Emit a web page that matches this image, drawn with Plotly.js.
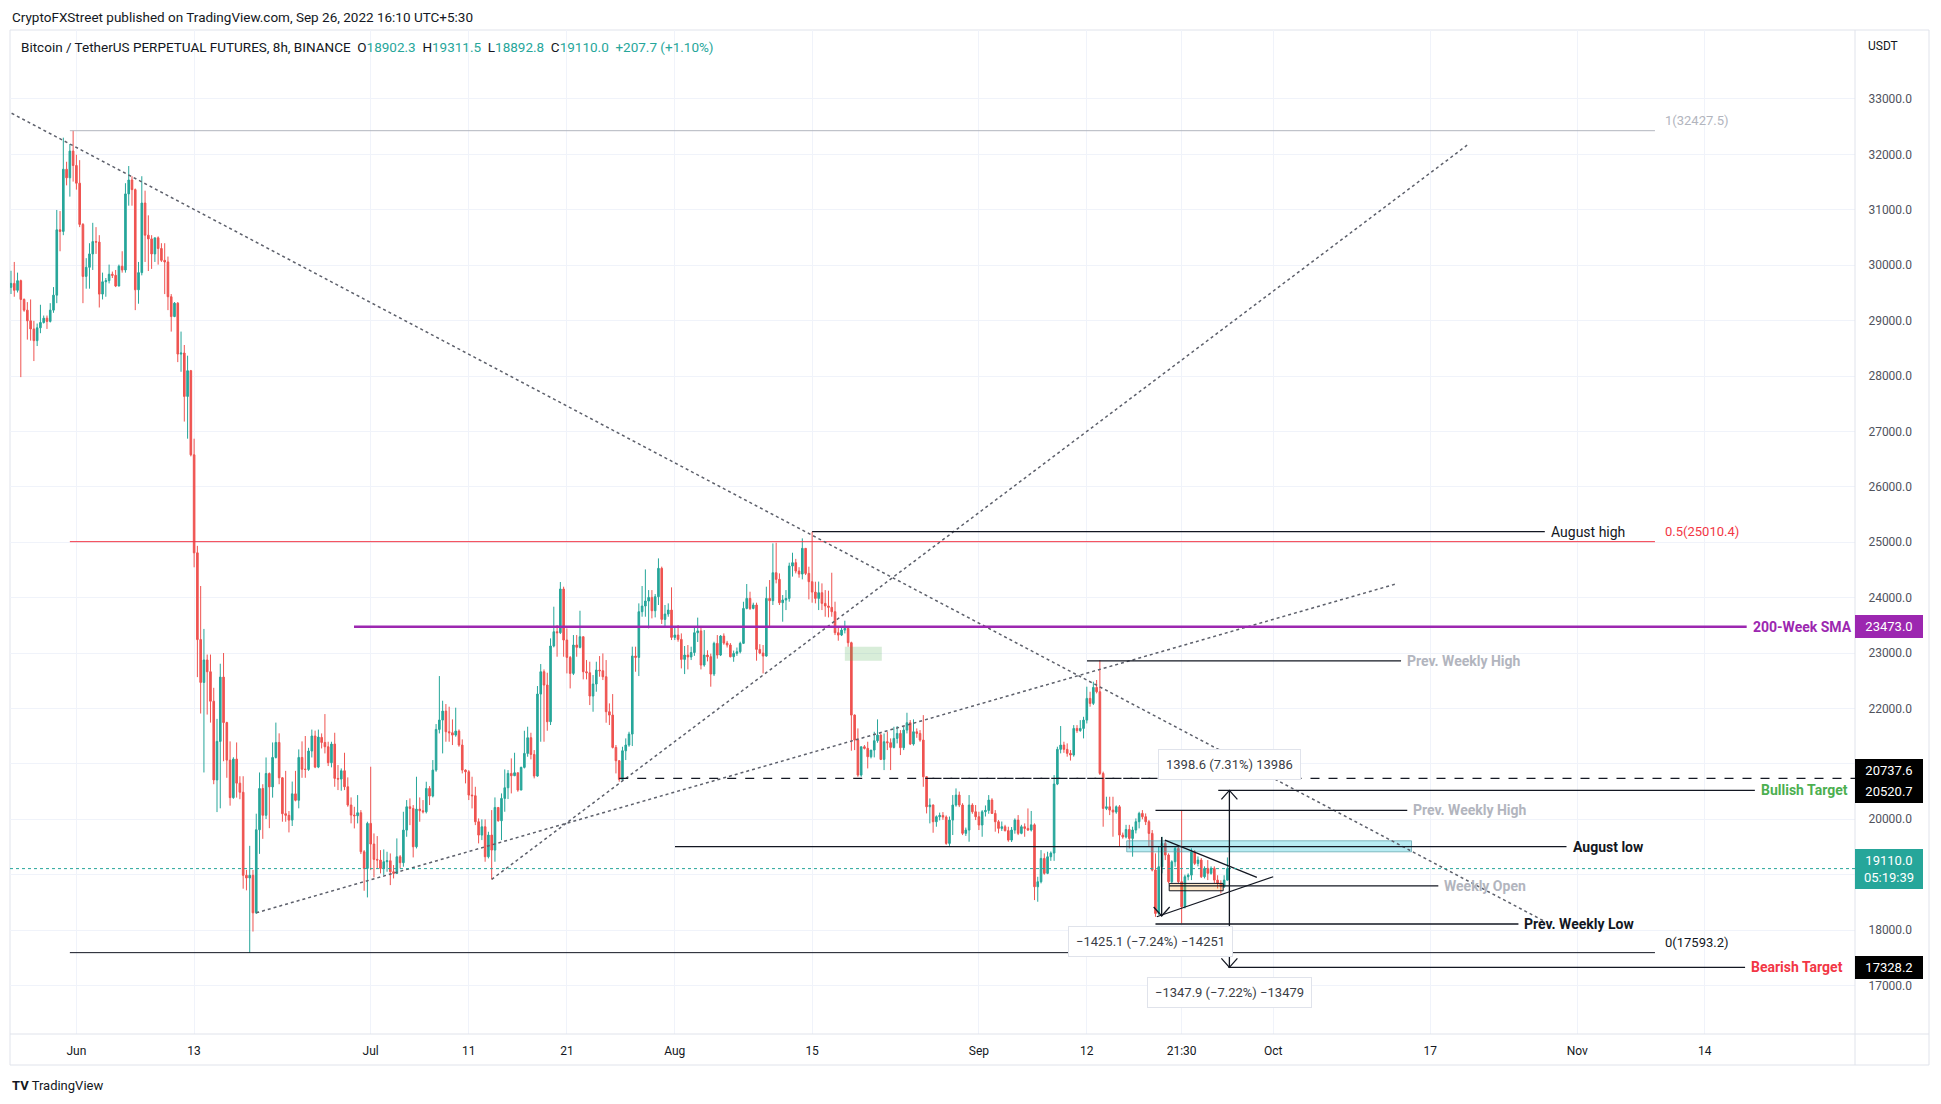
<!DOCTYPE html>
<html><head><meta charset="utf-8">
<script src="https://cdn.plot.ly/plotly-3.0.1.min.js"></script>
<style>html,body{margin:0;padding:0;background:#fff;}#chart{width:1941px;height:1104px;}</style>
</head><body><div id="chart"></div>
<script>
// ---- candle data, 8h BTCUSDT perpetual, [open, high, low, close] ----
const candlesMayJun = [
[29600,29900,29480,29672],[29672,30059,29431,29547],[29547,29866,29508,29721],[29721,29740,27980,29382],[29382,29400,29160,29189],
[29189,29334,28657,28996],[28996,29382,28638,28850],[28850,28996,28270,28638],[28638,28947,28541,28870],[28870,29286,28773,28966],
[28966,29092,28947,29044],[29044,29092,28850,28986],[28986,29315,28966,29189],[29189,29605,29141,29460],[29460,30997,29315,30639],
[30639,30977,30252,30610],[30610,32302,30542,31732],[31732,31867,31441,31577],[31577,32186,31238,32060],[32060,32427.5,31509,31799],
[31799,31993,31364,31480],[31480,31896,30687,30736],[30736,30760,29315,29798],[29798,30127,29576,29962],[29962,30397,29576,30204],
[30204,30765,29914,30426],[30426,30687,30204,30417],[30417,30542,29237,29479],[29479,29866,29382,29701],[29701,29769,29431,29721],
[29721,30011,29672,29837],[29837,29885,29769,29817],[29817,29914,29605,29624],[29624,30011,29620,29982],[29982,30252,29866,29914],
[29914,31480,29866,31287],[31287,31790,31074,31538],[31538,31606,31074,31364],[31364,31384,29189,29556],[29556,30059,29305,29866],
[29866,31606,29817,31122],[31122,31345,30059,30542],[30542,30900,29895,30475],[30475,30542,29933,30204],[30204,30494,30059,30494],
[30494,30520,30011,30301],[30301,30397,30059,30088],[30088,30397,29479,30059],[30059,30156,29189,29431],[29431,29479,28802,29073],
[29073,29334,29063,29315],[29315,29334,28251,28396],[28396,28802,28077,28415],[28415,28560,27178,27632],[27632,28367,26869,28096],
[28096,28110,26550,26578],[26578,26869,24548,24809],[24809,24935,22566,23243],[23243,24210,21909,22470],[22470,23436,20845,22876],
[22876,22973,21890,22663],[22663,22973,21745,22131],[22131,22373,20633,20710],[20710,21812,20130,21406],[21406,22808,20198,22566],
[22566,23001,21048,21745],[21745,21760,20749,21068],[21068,21406,20246,20391],[20391,21120,20370,21087],[21087,21387,20391,20652],
[20652,20777,20362,20488],[20488,20777,18747,18989],[18989,19086,18718,18941],[18941,19521,17593.2,18989],[18989,19086,17974,18312],
[18312,20101,18293,19811],[19811,20845,19376,20556],[20556,20633,19647,20072],[20072,21116,20005,20826],[20826,20845,19840,20585],
[20585,21387,20391,21116],[21116,21745,21097,21387],[21387,21551,20633,20749],[20749,20760,19956,20101],[20101,20874,19956,20072],
[20072,20149,19763,19985],[19985,20681,19879,20459],[20459,20874,20324,20343],[20343,21261,20198,21116],[21116,21406,20749,20903],
[20903,21503,20749,20900],[20900,21290,20874,21232],[21232,21619,21116,21503],[21503,21600,20923,20942],[20942,21619,20923,21484]
];
const candlesJunJul = [
[21478,21550,21279,21387],[21387,21899,21189,21309],[21309,21400,20961,21021],[21021,21400,20937,21358],[21358,21562,20587,20738],
[20738,20979,20527,20726],[20726,20918,20515,20876],[20876,21201,20527,20587],[20587,20756,20226,20257],[20257,20395,19926,20076],
[20076,20226,19835,20064],[20064,20437,19926,20118],[20118,20166,19372,19414],[19414,19444,18710,19113],[19113,19956,18590,19926],
[19926,20949,19083,19553],[19553,19745,18951,19276],[19276,19697,19113,19264],[19264,19444,19023,19113],[19113,19456,18993,19234],
[19234,19414,19053,19252],[19252,19384,18812,19053],[19053,19174,18933,19023],[19023,19655,19011,19324],[19324,19354,19113,19216],
[19216,20136,19144,19805],[19805,20347,19685,20226],[20226,20377,19895,20196],[20196,20257,19312,19504],[19504,20768,19474,20184],
[20184,20395,19956,20154],[20154,20347,20106,20136],[20136,20678,20106,20557],[20557,20599,20257,20419],[20419,21069,20395,20888],
[20888,21719,20858,21622],[21622,22585,21550,21791],[21791,22140,21189,21953],[21953,22080,21400,21580],[21580,22032,21400,21562],
[21562,21803,21340,21520],[21520,22014,21490,21592],[21592,21622,21309,21340],[21340,21442,20828,20888],[20888,20900,20648,20858],
[20858,20888,20347,20437],[20437,20768,20196,20425],[20425,20587,19895,19956],[19956,20016,19565,19715],[19715,19998,19625,19865],
[19865,19998,19234,19324],[19324,19775,19294,19715],[19715,20166,18915,19444],[19444,20395,19234,20214],[20214,20214,19956,19974],
[19974,20467,19625,20377],[20377,20900,20136,20569],[20569,20888,20365,20828],[20828,21099,20467,20786],[20786,21201,20780,20840],
[20840,20840,20497,20527],[20527,20949,20527,20937],[20937,21598,20918,21189],[21189,21671,21129,21472],[21472,21562,21081,21171],
[21171,21249,20738,20780],[20780,22405,20768,22260],[22260,22802,21400,22663],[22663,22705,21400,22423],[22423,22645,21598,21761],
[21761,23265,21701,23127],[23127,23837,23103,23385],[23385,23506,22934,23367],[23367,24282,23343,24156],[24156,24198,22934,23235],
[23235,23446,22633,22922],[22922,22946,22362,22633],[22633,23325,22603,23145],[23145,23325,22934,23103],[23103,23764,23085,23295],
[23295,23295,22525,22663],[22663,22874,22525,22645],[22645,22844,22062,22224],[22224,22603,21941,22441],[22441,22844,22302,22693],
[22693,22946,22573,22681],[22681,22994,22513,22573],[22573,22874,21743,21941],[21941,22092,21701,21881],[21881,22260,21279,21297],
[21297,21340,20828,21057],[21057,21069,20678,20720],[20720,21309,20696,21237],[21237,21460,21069,21340],[21340,21580,21309,21538]
];
const candlesJulAug = [
[21538,23115,21322,22946],[22946,23115,22663,22922],[22922,23897,22585,23746],[23746,24210,23656,23849],[23849,24510,23656,23939],
[23939,24137,23445,24005],[24005,24137,23626,23764],[23764,24065,23644,24017],[24017,24709,23867,24529],[24529,24560,23524,23608],
[23608,23867,23488,23704],[23704,23897,23656,23776],[23776,24186,23235,23283],[23283,23488,23235,23325],[23325,23506,23205,23247],
[23247,23355,22723,22886],[22886,23127,22621,22964],[22964,23145,22705,22930],[22930,23115,22874,23010],[23010,23488,22950,23367],
[23367,23640,23200,23400],[23400,23476,22705,22784],[22784,23415,22754,22964],[22964,23050,22850,22934],[22934,22990,22393,22621],
[22621,23205,22585,23175],[23175,23325,22900,22964],[22964,23325,22946,23307],[23307,23355,23150,23180],[23180,23220,23100,23145],
[23145,23180,22922,22934],[22934,23045,22843,22994],[22994,23100,22950,23024],[23024,23205,22994,23175],[23175,23926,23163,23806],
[23806,24246,23790,23987],[23987,24107,23777,23806],[23806,23909,23789,23867],[23867,23909,22862,23066],[23066,23160,22980,23000],
[23000,23145,22633,22946],[22946,24198,22934,23987],[23987,24318,23464,23945],[23945,24980,23867,24450],[24450,24992,24258,24330],
[24330,24438,23867,23909],[23909,24047,23566,23957],[23957,24137,23776,23987],[23987,24631,23927,24571],[24571,24811,24380,24631],
[24631,24700,24438,24480],[24480,24550,24360,24426],[24426,25070,24330,24890],[24890,24890,24408,24438],[24438,24559,23969,24288],
[24288,25190,23909,24100],[24100,24288,23897,23987],[23987,24290,23776,24089],[24089,24258,23776,23897],[23897,24137,23656,23850],
[23850,24126,23644,23825],[23825,24450,23656,23746],[23746,23927,23325,23367],[23367,23476,23223,23325],[23325,23488,23307,23415],
[23415,23584,23355,23445],[23445,23488,23114,23187],[23187,23205,21237,21881],[21881,21893,21249,21430],[21430,21640,20767,20798],
[20798,21309,20767,21309],[21309,21340,21261,21280],[21280,21400,20918,21129],[21129,21249,21099,21249],[21249,21580,21117,21418],
[21418,21803,21382,21520],[21520,21550,21069,21081],[21081,21550,20888,21400],[21400,21580,21249,21382],[21382,21460,20888,21297],
[21297,21670,21279,21460],[21460,21683,21370,21550],[21550,21610,21159,21292],[21292,21671,21249,21610],[21610,21923,21550,21743],
[21743,21791,21340,21358],[21358,21803,21330,21580],[21580,21640,21470,21550],[21550,21610,21400,21430],[21430,21880,20587,20768],
[20768,20780,20106,20226],[20226,20377,19926,20257],[20257,20269,19757,19955],[19955,20070,19866,20046],[20046,20120,19980,20070]
];
const candlesAugSep = [
[20070,20130,19990,20040],[20040,20070,19540,19565],[19565,20050,19520,19986],[19986,20437,19716,20257],[20257,20557,20227,20437],
[20437,20500,20220,20257],[20257,20290,19715,19746],[19746,19850,19700,19806],[19806,20437,19595,20257],[20257,20290,20100,20136],
[20136,20257,19986,20046],[20046,20136,19806,19896],[19896,20166,19685,20136],[20136,20250,20050,20160],[20160,20437,20100,20347],
[20347,20380,20100,20106],[20106,20166,19776,19956],[19956,19986,19746,19836],[19836,19960,19790,19866],[19866,19900,19780,19795],
[19795,19866,19595,19625],[19625,19860,19590,19806],[19806,20016,19740,19986],[19986,20076,19715,19746],[19746,19900,19730,19866],
[19866,19926,19685,19836],[19836,20196,19790,19806],[19806,20150,19780,19900],[19900,19926,18542,18782],[18782,18963,18512,18873],
[18873,19444,18843,19294],[19294,19385,19000,19024],[19024,19414,19010,19324],[19324,19420,19250,19390],[19390,20798,19250,20636],
[20636,21310,20617,21262],[21262,21683,21190,21340],[21340,21400,21200,21262],[21262,21370,21130,21190],[21190,21250,21060,21160],
[21160,21700,21130,21640],[21640,21700,21560,21600],[21600,21790,21580,21640],[21640,21850,21460,21790],[21790,22393,21730,22182],
[22182,22302,22032,22092],[22092,22483,22062,22380],[22380,22514,22272,22302],[22302,22874,20800,20828],[20828,20860,19866,20196],
[20196,20407,20166,20226],[20226,20407,20076,20166],[20166,20407,19685,20130],[20130,20250,20100,20226],[20226,20257,19505,19715],
[19715,19760,19650,19680],[19680,19900,19655,19816],[19816,19900,19475,19655],[19655,19866,19325,19806],[19806,20016,19745,19956],
[19956,20136,19836,20106],[20106,20166,20000,20046],[20046,20106,19896,19956],[19956,19986,19505,19745],[19745,19806,19060,19084],
[19084,19385,18240,18301],[18301,19505,18270,19144],[19144,19685,19024,19565],[19565,19625,19264,19355],[19355,19385,18842,18873],
[18873,19260,18843,19234],[19234,19505,19144,19475],[19475,19505,18850,18873],[18873,20166,18120,18421],[18421,19000,18391,18963],
[18963,19024,18900,18993],[18993,19475,18903,19415],[19415,19445,19174,19204],[19204,19330,19150,19264],[19264,19300,18940,18963],
[18963,19150,18933,19114],[19114,19264,18903,19024],[19024,19150,19000,19114],[19114,19150,18850,18903],[18903,18990,18752,18843],
[18843,18900,18662,18782],[18782,18990,18760,18902.3],[18902.3,19311.5,18892.8,19110.0]
];
const firstCandleUTC = Date.UTC(2022, 4, 25, 13, 30);   // first 8h candle, exchange chart time (UTC+5:30)
const candleHours = 8;

// ---- axes ----
const priceTicks = [17000,18000,19000,20000,21000,22000,23000,24000,25000,26000,27000,28000,29000,30000,31000,32000,33000];
const hiddenPriceTicks = [19000];   // covered by the live-price tag in the original
const timeTickVals = ["2022-06-01 05:30","2022-06-13 05:30","2022-07-01 05:30","2022-07-11 05:30","2022-07-21 05:30","2022-08-01 05:30","2022-08-15 05:30","2022-09-01 05:30","2022-09-12 05:30","2022-09-21 21:30","2022-10-01 05:30","2022-10-17 05:30","2022-11-01 05:30","2022-11-14 05:30"];
const timeTickText = ["Jun","13","Jul","11","21","Aug","15","Sep","12","21:30","Oct","17","Nov","14"];

// ---- analyst drawings ----
const fibStart = "2022-05-31 13:30", fibEnd = "2022-11-09 03:30";
const fibRatios = ["1", "0.5", "0"];
const fibPrices = [32427.5, 25010.4, 17593.2];
const levelNames = ["August high","200-Week SMA","Prev. Weekly High","Bullish Target","Prev. Weekly High","August low","Weekly Open","Prev. Weekly Low","Bearish Target"];
const levelPrices = [25190, 23473.0, 22860, 20520.7, 20160, 19505, 18800, 18110, 17328.2];
const levelStarts = ["2022-08-15 05:30","2022-06-29 12:40","2022-09-12 05:55","2022-09-25 15:05","2022-09-19 05:30","2022-08-01 06:00","2022-09-20 15:05","2022-09-19 05:30","2022-09-26 15:55"];
const levelEnds = ["2022-10-28 22:00","2022-11-18 11:55","2022-10-14 06:20","2022-11-19 07:55","2022-10-14 21:30","2022-10-31 03:05","2022-10-18 01:30","2022-10-26 05:30","2022-11-18 08:00"];
const dashedLevel = {price: 20737.6, start: "2022-07-26 13:30"};
const trendLines = [
  {from: ["2022-05-25 15:00", 32742], to: ["2022-10-28 22:20", 18155]},
  {from: ["2022-07-13 13:30", 18916], to: ["2022-10-20 23:55", 32166]},
  {from: ["2022-06-19 13:30", 18312], to: ["2022-10-13 19:05", 24250]}
];
const triangleUpper = [["2022-09-20 04:40", 19625], ["2022-09-29 13:30", 18952]];
const triangleLower = [["2022-09-19 08:40", 18241], ["2022-10-01 05:30", 18963]];
const zoneCyan = {x: ["2022-09-16 07:05","2022-10-15 07:55"], y: [19413, 19612]};
const zoneOrange = {x: ["2022-09-20 15:05","2022-09-26 03:05"], y: [18710, 18843]};
const zoneGreen = {x: ["2022-08-18 13:30","2022-08-22 07:55"], y: [22862, 23115]};
const measureMain = {x: "2022-09-26 18:20", top: 20520.7, bottom: 17328.2};
const measureLeft = {x: "2022-09-19 20:40", from: 19680, to: 18255};
const measureLabels = ["1398.6 (7.31%) 13986", "\u22121347.9 (\u22127.22%) \u221213479", "\u22121425.1 (\u22127.24%) \u221214251"];
const measureLabelPos = [["2022-09-26 18:20", 20985], ["2022-09-26 18:20", 16875], ["2022-09-18 17:05", 17800]];
const countdown = "05:19:39";

// ---- build ----
const candles = candlesMayJun.concat(candlesJunJul, candlesJulAug, candlesAugSep);
function fmt(ms){const d=new Date(ms);const p=n=>String(n).padStart(2,'0');
  return d.getUTCFullYear()+'-'+p(d.getUTCMonth()+1)+'-'+p(d.getUTCDate())+' '+p(d.getUTCHours())+':'+p(d.getUTCMinutes());}
const times = candles.map((c,i)=>fmt(firstCandleUTC + i*candleHours*3600e3));
const opens = candles.map(c=>c[0]), highs = candles.map(c=>c[1]), lows = candles.map(c=>c[2]), closes = candles.map(c=>c[3]);

const UP = '#26a69a', DOWN = '#ef5350', INK = '#131722', GREY = '#b2b5be';
const FONT = 'Roboto, "Liberation Sans", Arial, sans-serif';

const trace = {type:'candlestick', x:times, open:opens, high:highs, low:lows, close:closes,
  increasing:{line:{color:UP,width:1}, fillcolor:UP}, decreasing:{line:{color:DOWN,width:1}, fillcolor:DOWN},
  whiskerwidth:0, hoverinfo:'skip', showlegend:false};

const shapes = [], annotations = [];
// frame
const PX = 1845, PY = 1004;
shapes.push({type:'rect', xref:'paper', yref:'paper', x0:0, x1:1+74/PX, y0:-31/PY, y1:1, line:{color:'#e0e3eb', width:1}, layer:'below'});
shapes.push({type:'line', xref:'paper', yref:'paper', x0:1, x1:1, y0:-31/PY, y1:1, line:{color:'#e0e3eb', width:1}});
shapes.push({type:'line', xref:'paper', yref:'paper', x0:0, x1:1+74/PX, y0:0, y1:0, line:{color:'#e0e3eb', width:1}});

// zones
[[zoneGreen,'rgba(76,175,80,0.22)','rgba(0,0,0,0)'],[zoneCyan,'rgba(0,188,212,0.28)','rgba(90,160,170,0.7)'],[zoneOrange,'rgba(255,152,0,0.22)',INK]].forEach(([z,f,l])=>{
  shapes.push({type:'rect', xref:'x', yref:'y', x0:z.x[0], x1:z.x[1], y0:z.y[0], y1:z.y[1], fillcolor:f, line:{color:l, width:1}});
});
// fib
const fibColors = [GREY, '#f23645', INK];
fibPrices.forEach((p,i)=>{
  shapes.push({type:'line', xref:'x', yref:'y', x0:fibStart, x1:fibEnd, y0:p, y1:p, line:{color:fibColors[i], width:1}});
  annotations.push({xref:'x', yref:'y', x:fibEnd, y:p, xanchor:'left', yanchor:'middle', xshift:8, yshift:10, showarrow:false,
    text:fibRatios[i]+'('+p.toFixed(1)+')', font:{size:13, color:fibColors[i], family:FONT}});
});
// trend lines
trendLines.forEach(t=>shapes.push({type:'line', xref:'x', yref:'y', x0:t.from[0], y0:t.from[1], x1:t.to[0], y1:t.to[1], line:{color:'#5d606b', width:1.5, dash:'dot'}}));
// levels
const lineColors = [INK,'#9c27b0',INK,INK,INK,INK,INK,INK,INK];
const labelColors = [INK,'#9c27b0',GREY,'#4caf50',GREY,INK,GREY,INK,'#f23645'];
levelPrices.forEach((p,i)=>{
  shapes.push({type:'line', xref:'x', yref:'y', x0:levelStarts[i], x1:levelEnds[i], y0:p, y1:p, line:{color:lineColors[i], width:i===1?2.5:1.3}});
  const bold = i!==0;
  annotations.push({xref:'x', yref:'y', x:levelEnds[i], y:p, xanchor:'left', yanchor:'middle', xshift:4, showarrow:false,
    text: bold ? '<b>'+levelNames[i]+'</b>' : levelNames[i], font:{size:14, color:labelColors[i], family:FONT}});
});
shapes.push({type:'line', xref:'x', yref:'y', x0:dashedLevel.start, x1:times[times.length-1], y0:dashedLevel.price, y1:dashedLevel.price, line:{color:INK, width:1.3, dash:'dash'}});
shapes.push({type:'line', xref:'paper', yref:'y', x0:0.5, x1:1, y0:dashedLevel.price, y1:dashedLevel.price, line:{color:INK, width:1.3, dash:'dash'}});
// triangle
[triangleUpper, triangleLower].forEach(t=>shapes.push({type:'line', xref:'x', yref:'y', x0:t[0][0], y0:t[0][1], x1:t[1][0], y1:t[1][1], line:{color:INK, width:1.3}}));
// current price line
const last = candles[candles.length-1];
shapes.push({type:'line', xref:'paper', yref:'y', x0:0, x1:1, y0:last[3], y1:last[3], line:{color:UP, width:1, dash:'dot'}});
// measurement arrows
function head(x, y, dir){ // dir 1 = up, -1 = down
  return {type:'path', xref:'x', yref:'y', xsizemode:'pixel', ysizemode:'pixel', xanchor:x, yanchor:y,
    path: dir>0 ? 'M -8 -9 L 0 0 L 8 -9' : 'M -8 9 L 0 0 L 8 9', line:{color:INK, width:1.3}};
}
shapes.push({type:'line', xref:'x', yref:'y', x0:measureMain.x, x1:measureMain.x, y0:measureMain.bottom, y1:measureMain.top, line:{color:INK, width:1.3}});
shapes.push(head(measureMain.x, measureMain.top, 1));
shapes.push(head(measureMain.x, measureMain.bottom, -1));
shapes.push({type:'line', xref:'x', yref:'y', x0:measureLeft.x, x1:measureLeft.x, y0:measureLeft.from, y1:measureLeft.to, line:{color:INK, width:1.3}});
shapes.push(head(measureLeft.x, measureLeft.to, -1));
measureLabels.forEach((t,i)=>annotations.push({xref:'x', yref:'y', x:measureLabelPos[i][0], y:measureLabelPos[i][1], xanchor:'center', yanchor:'middle',
  showarrow:false, text:t, bgcolor:'#ffffff', bordercolor:'#e0e3eb', borderwidth:1, borderpad:7, font:{size:13, color:'#3a3d45', family:FONT}}));

// price axis tags
const tagPrices = [levelPrices[1], dashedLevel.price, levelPrices[3], last[3], levelPrices[8]];
const tagColors = ['#9c27b0', '#000000', '#000000', UP, '#000000'];
const tagShift = [0, 8, -1, 0, 0];
tagPrices.forEach((p,i)=>{
  const txt = i===3 ? p.toFixed(1)+'<br>'+countdown : p.toFixed(1);
  annotations.push({xref:'paper', yref:'y', x:1, y:p, xanchor:'left', yanchor:'middle', yshift:tagShift[i], showarrow:false,
    text:txt, bgcolor:tagColors[i], bordercolor:tagColors[i], borderpad:3, width:60, align:'center',
    font:{size:13, color:'#ffffff', family:FONT}});
});
annotations.push({xref:'paper', yref:'paper', x:1+11/PX, y:1-16/PY, xanchor:'left', yanchor:'middle', showarrow:false, text:'USDT', font:{size:12, color:INK, family:FONT}});

// header texts
const prev = candles[candles.length-2][3];
const chg = last[3]-prev, chgPct = chg/prev*100;
const val = v=>'<span style="color:'+UP+'">'+v+'</span>';
annotations.push({xref:'paper', yref:'paper', x:0, y:1+13/PY, xanchor:'left', yanchor:'middle', showarrow:false,
  text:'CryptoFXStreet published on TradingView.com, Sep 26, 2022 16:10 UTC+5:30', font:{size:13.5, color:INK, family:FONT}});
annotations.push({xref:'paper', yref:'paper', x:9/PX, y:1-17/PY, xanchor:'left', yanchor:'middle', showarrow:false,
  text:'Bitcoin / TetherUS PERPETUAL FUTURES, 8h, BINANCE&nbsp;&nbsp;O'+val(last[0].toFixed(1))+'&nbsp;&nbsp;H'+val(last[1].toFixed(1))+'&nbsp;&nbsp;L'+val(last[2].toFixed(1))+'&nbsp;&nbsp;C'+val(last[3].toFixed(1))+'&nbsp;&nbsp;'+val('+'+chg.toFixed(1)+' (+'+chgPct.toFixed(2)+'%)'),
  font:{size:13.5, color:INK, family:FONT}});
annotations.push({xref:'paper', yref:'paper', x:0, y:-51/PY, xanchor:'left', yanchor:'middle', showarrow:false,
  text:'<b>TV</b> TradingView', font:{size:13, color:INK, family:FONT}});

const layout = {
  width:1941, height:1104, margin:{l:10, r:86, t:30, b:70},
  paper_bgcolor:'#ffffff', plot_bgcolor:'#ffffff', showlegend:false, hovermode:false, dragmode:false,
  font:{family:FONT, color:INK},
  xaxis:{type:'date', range:['2022-05-25 11:03','2022-11-29 12:55'], rangeslider:{visible:false},
    tickmode:'array', tickvals:timeTickVals, ticktext:timeTickText, showgrid:true, gridcolor:'#f0f3fa', gridwidth:1,
    zeroline:false, showline:false, ticks:'outside', ticklen:6, tickcolor:'rgba(0,0,0,0)', tickfont:{size:12, color:INK, family:FONT}, fixedrange:true},
  yaxis:{side:'right', range:[16125, 34245], tickmode:'array', tickvals:priceTicks,
    ticktext:priceTicks.map(v=>hiddenPriceTicks.includes(v)?'':v.toFixed(1)),
    showgrid:true, gridcolor:'#f0f3fa', gridwidth:1, zeroline:false, showline:false, ticks:'outside', ticklen:10, tickcolor:'rgba(0,0,0,0)',
    tickfont:{size:12, color:'#50535e', family:FONT}, fixedrange:true},
  shapes:shapes, annotations:annotations
};
Plotly.newPlot('chart', [trace], layout, {displayModeBar:false, staticPlot:true});
</script></body></html>
